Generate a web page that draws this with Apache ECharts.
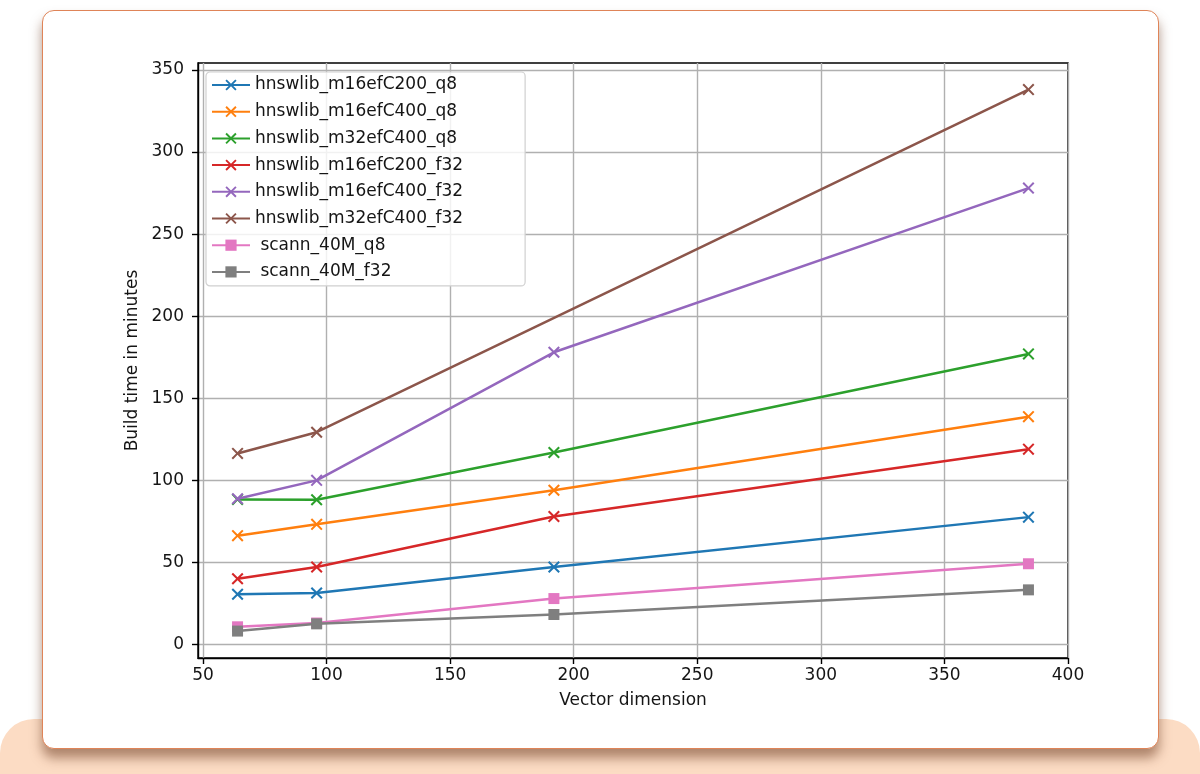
<!DOCTYPE html>
<html>
<head>
<meta charset="utf-8">
<script src="https://cdn.jsdelivr.net/npm/echarts@6/dist/echarts.min.js"></script>
<style>
html,body{margin:0;padding:0;background:#fff;width:1200px;height:774px;overflow:hidden;position:relative;}
#band{position:absolute;left:0;top:719px;width:1200px;height:90px;background:#fcdcc4;border-radius:34px;}
#card{position:absolute;left:42px;top:10px;width:1115px;height:737px;background:#fff;border:1.6px solid #df8458;border-radius:12px;box-shadow:0 9px 12px rgba(110,60,35,0.55);}
#chart{position:absolute;left:0;top:0;width:1200px;height:774px;}
</style>
</head>
<body>
<div id="band"></div>
<div id="card"></div>
<div id="chart"></div>
<script>
// Data
const vectorDims = [64, 96, 192, 384];
const seriesNames = [
  'hnswlib_m16efC200_q8', 'hnswlib_m16efC400_q8', 'hnswlib_m32efC400_q8',
  'hnswlib_m16efC200_f32', 'hnswlib_m16efC400_f32', 'hnswlib_m32efC400_f32',
  ' scann_40M_q8', ' scann_40M_f32'
];
const hnsw_m16efC200_q8  = [30.6, 31.4, 47.2, 77.6];
const hnsw_m16efC400_q8  = [66.3, 73.2, 94.0, 138.8];
const hnsw_m32efC400_q8  = [88.4, 88.2, 117.0, 177.0];
const hnsw_m16efC200_f32 = [40.1, 47.2, 78.0, 119.0];
const hnsw_m16efC400_f32 = [88.8, 100.0, 178.0, 278.0];
const hnsw_m32efC400_f32 = [116.4, 129.3, null, 338.0];
const scann_40M_q8       = [10.8, 13.1, 28.0, 49.2];
const scann_40M_f32      = [8.2, 12.6, 18.3, 33.3];
const xTickValues = [50, 100, 150, 200, 250, 300, 350, 400];
const yTickValues = [0, 50, 100, 150, 200, 250, 300, 350];

const allValues = [hnsw_m16efC200_q8, hnsw_m16efC400_q8, hnsw_m32efC400_q8,
  hnsw_m16efC200_f32, hnsw_m16efC400_f32, hnsw_m32efC400_f32, scann_40M_q8, scann_40M_f32];
const colors = ['#1f77b4', '#ff7f0e', '#2ca02c', '#d62728', '#9467bd', '#8c564b', '#e377c2', '#7f7f7f'];
const markers = ['x', 'x', 'x', 'x', 'x', 'x', 's', 's'];
const X_PATH = 'path://M0,1.2 L1.2,0 L5,3.8 L8.8,0 L10,1.2 L6.2,5 L10,8.8 L8.8,10 L5,6.2 L1.2,10 L0,8.8 L3.8,5 Z';

const FONT = 'DejaVu Sans';
const TXT = '#151515';
const series = allValues.map((vals, i) => ({
  name: seriesNames[i],
  type: 'line',
  data: vectorDims.map((d, j) => [d, vals[j]]),
  connectNulls: true,
  symbol: markers[i] === 'x' ? X_PATH : 'rect',
  symbolSize: markers[i] === 'x' ? 12 : 11,
  showAllSymbol: true,
  color: colors[i],
  lineStyle: { width: 2.5, color: colors[i] },
  itemStyle: { color: colors[i] },
  emphasis: { disabled: true },
  animation: false,
  z: 3 + i
}));

const chart = echarts.init(document.getElementById('chart'), null, { renderer: 'canvas' });
chart.setOption({
  backgroundColor: 'transparent',
  animation: false,
  textStyle: { fontFamily: FONT },
  grid: { left: 198, right: 132, top: 63, bottom: 116, show: true, borderColor: '#000', borderWidth: 1.4, backgroundColor: 'transparent' },
  xAxis: {
    type: 'value', min: 48, max: 400,
    name: 'Vector dimension', nameLocation: 'middle', nameGap: 34,
    nameTextStyle: { fontFamily: FONT, fontSize: 17, color: TXT },
    axisLine: { show: true, onZero: false, lineStyle: { color: '#000', width: 1.4 } },
    axisTick: { show: true, inside: false, length: 6, customValues: xTickValues, lineStyle: { color: '#000', width: 1.4 } },
    axisLabel: { customValues: xTickValues, fontFamily: FONT, fontSize: 17, color: TXT, margin: 9 },
    splitLine: { show: true, lineStyle: { color: '#b0b0b0', width: 1.4 } }
  },
  yAxis: {
    type: 'value', min: -8.2, max: 354.2,
    name: 'Build time in minutes', nameLocation: 'middle', nameGap: 54, nameRotate: 90,
    nameTextStyle: { fontFamily: FONT, fontSize: 17, color: TXT },
    axisLine: { show: true, onZero: false, lineStyle: { color: '#000', width: 1.4 } },
    axisTick: { show: true, inside: false, length: 6, customValues: yTickValues, lineStyle: { color: '#000', width: 1.4 } },
    axisLabel: { customValues: yTickValues, fontFamily: FONT, fontSize: 17, color: TXT, margin: 14 },
    splitLine: { show: true, lineStyle: { color: '#b0b0b0', width: 1.4 } }
  },
  legend: {
    orient: 'vertical', left: 206, top: 72,
    padding: [3, 62, 4, 5],
    itemWidth: 38, itemHeight: 14, itemGap: 6.7,
    backgroundColor: 'rgba(255,255,255,0.82)', borderColor: '#d0d0d0', borderWidth: 1.2, borderRadius: 4,
    textStyle: { fontFamily: FONT, fontSize: 17, color: TXT, lineHeight: 20 },
    selectedMode: false,
    data: seriesNames
  },
  series: series
});
</script>
</body>
</html>
